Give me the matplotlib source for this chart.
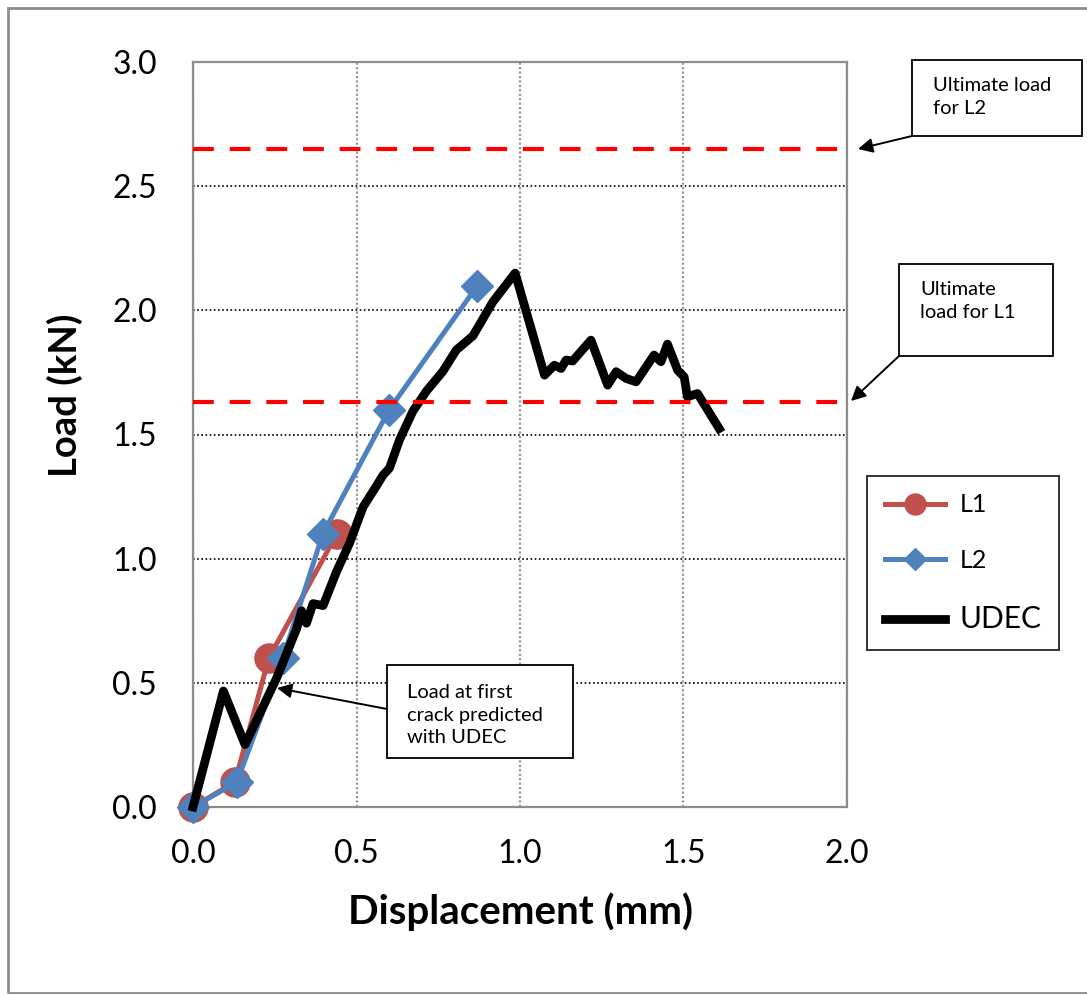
import matplotlib
matplotlib.use("Agg")
import matplotlib.pyplot as plt
from matplotlib.patches import Rectangle

plt.rcParams['font.family'] = ['Lato', 'DejaVu Sans']

# test data
l1_disp = [0.0, 0.128, 0.232, 0.44]
l1_load = [0.0, 0.10, 0.60, 1.10]

l2_disp = [0.0, 0.134, 0.275, 0.397, 0.60, 0.87]
l2_load = [0.0, 0.10, 0.60, 1.10, 1.60, 2.10]

udec_disp = [0.0, 0.093, 0.159, 0.255, 0.317, 0.332, 0.347, 0.367, 0.398, 0.439,
             0.479, 0.52, 0.561, 0.581, 0.601, 0.632, 0.673, 0.714, 0.764, 0.805,
             0.856, 0.917, 0.985, 1.075, 1.105, 1.126, 1.141, 1.161, 1.217, 1.268,
             1.294, 1.324, 1.355, 1.41, 1.431, 1.451, 1.482, 1.502, 1.512, 1.543,
             1.609]
udec_load = [0.0, 0.467, 0.251, 0.517, 0.718, 0.79, 0.74, 0.819, 0.811, 0.948,
             1.063, 1.208, 1.293, 1.336, 1.365, 1.48, 1.595, 1.675, 1.754, 1.84,
             1.897, 2.034, 2.15, 1.739, 1.779, 1.766, 1.80, 1.796, 1.88, 1.699,
             1.753, 1.726, 1.712, 1.82, 1.793, 1.864, 1.759, 1.732, 1.652, 1.665,
             1.524]

ult_l1 = 1.63
ult_l2 = 2.65

W, H = 1087, 994


def px(x, y):
    # image pixel -> figure fraction
    return (x / W, 1 - y / H)


fig = plt.figure(figsize=(W / 100, H / 100), dpi=100)
ax = fig.add_axes([193 / W, 1 - 807 / H, (847 - 193) / W, (807 - 62) / H])

ax.plot(l1_disp, l1_load, color='#C0504D', lw=3.6, marker='o', ms=21,
        label='L1', zorder=3, clip_on=False)
ax.plot(l2_disp, l2_load, color='#4F81BD', lw=3.6, marker='D', ms=16,
        label='L2', zorder=4, clip_on=False)
ax.plot(udec_disp, udec_load, color='black', lw=6.3, solid_joinstyle='round',
        label='UDEC', zorder=5, clip_on=False)

for v in (ult_l1, ult_l2):
    ax.axhline(v, color='#FF0000', lw=3, dashes=(5, 3.8), zorder=6)

ax.set_xlim(0, 2.0)
ax.set_ylim(0, 3.0)
ax.set_xticks([0, 0.5, 1.0, 1.5, 2.0])
ax.set_yticks([0, 0.5, 1.0, 1.5, 2.0, 2.5, 3.0])
ax.xaxis.set_major_formatter(plt.FormatStrFormatter('%.1f'))
ax.yaxis.set_major_formatter(plt.FormatStrFormatter('%.1f'))
ax.tick_params(length=0, labelsize=23, pad=23)
ax.tick_params(axis='y', pad=26)

ax.yaxis.grid(True, color='black', linestyle=(0, (1, 1.5)), lw=1.2)
ax.xaxis.grid(True, color='#999999', linestyle=(0, (1, 1)), lw=1.6)
ax.set_axisbelow(True)
for s in ax.spines.values():
    s.set_color('#8c8c8c')
    s.set_linewidth(1.6)

ax.set_xlabel('Displacement (mm)', fontsize=29, fontweight='bold', va='center')
ax.xaxis.set_label_coords(0.5, (807 - 912) / 745)
ax.set_ylabel('Load (kN)', fontsize=27.5, fontweight='bold', va='center')
ax.yaxis.set_label_coords((65 - 193) / 654, (807 - 395) / 745)

leg = ax.legend(loc='upper left', bbox_to_anchor=px(867, 476),
                bbox_transform=fig.transFigure, fontsize=18, markerscale=0.72,
                frameon=True, fancybox=False, edgecolor='black',
                borderaxespad=0, borderpad=0.7, handlelength=2.4,
                handletextpad=0.6, labelspacing=1.3)
leg.get_frame().set_linewidth(1.4)
leg.get_texts()[2].set_fontsize(21.5)

# call-out boxes with arrows
boxes = [
    ((912, 60), (1082, 136), (933, 97), 'Ultimate load\nfor L2', (912, 136), (858, 149)),
    ((899, 264), (1053, 356), (920, 301), 'Ultimate\nload for L1', (899, 356), (851, 401)),
    ((387, 665), (573, 758), (407, 715), 'Load at first\ncrack predicted\nwith UDEC', (387, 709), (277, 688)),
]
for (x0, y0), (x1, y1), (tx, ty), txt, start, end in boxes:
    fx0, fy1 = px(x0, y1)
    fx1, fy0 = px(x1, y0)
    fig.add_artist(Rectangle((fx0, fy1), fx1 - fx0, fy0 - fy1, transform=fig.transFigure,
                             facecolor='white', edgecolor='black', lw=1.3, zorder=10))
    fig.text(*px(tx, ty), txt, fontsize=14.5, va='center', ha='left',
             linespacing=1.4, zorder=11)
    ax.annotate('', xy=px(*end), xycoords='figure fraction',
                xytext=px(*start), textcoords='figure fraction',
                arrowprops=dict(arrowstyle='-|>', color='black', lw=1.4,
                                mutation_scale=22, shrinkA=0, shrinkB=0),
                annotation_clip=False, zorder=12)

# outer chart border
fig.add_artist(Rectangle(px(8, 993), 1.2, (993 - 8) / H, transform=fig.transFigure,
                         facecolor='none', edgecolor='#8c8c8c', lw=2))

fig.savefig('out.png', dpi=100)
